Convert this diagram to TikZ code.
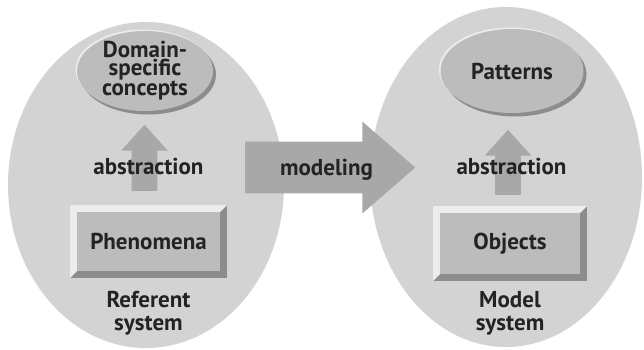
\documentclass[tikz,border=0pt]{standalone}
\usepackage{fontspec}
\setmainfont{PT Sans}
\usetikzlibrary{shapes, shapes.arrows, positioning, shadows}

\definecolor{sysgray}{RGB}{211,211,211}
\definecolor{facegray}{RGB}{188,188,188}
\definecolor{arrowgray}{RGB}{168,168,168}
\definecolor{litegray}{RGB}{236,236,236}
\definecolor{shadegray}{RGB}{140,140,140}
\definecolor{inkgray}{RGB}{35,35,35}

\tikzset{
	system/.style={ellipse, fill=sysgray, inner sep=0pt},
	concept/.style={ellipse, fill=facegray, inner sep=-12pt, align=center,
		font=\bfseries\fontsize{23}{18}\selectfont,
		general shadow={shadow xshift=3pt, shadow yshift=-3.5pt, fill=shadegray},
		general shadow={shadow xshift=-1.5pt, shadow yshift=1.5pt, fill=litegray}},
	bevelbox/.style={rectangle, fill=shadegray, inner sep=0pt,
		path picture={
			\fill[litegray] (path picture bounding box.south west)
				-- (path picture bounding box.north west)
				-- (path picture bounding box.north east)
				-- ([shift={(-7pt,-7pt)}]path picture bounding box.north east)
				-- ([shift={(7pt,7pt)}]path picture bounding box.south west) -- cycle;
			\fill[facegray] ([shift={(7pt,-7pt)}]path picture bounding box.north west)
				rectangle ([shift={(-7pt,7pt)}]path picture bounding box.south east);
		}},
	uparrow/.style={single arrow, fill=arrowgray, inner xsep=0pt, inner ysep=12.75pt, rotate=90,
		minimum height=66pt, minimum width=46pt, single arrow head extend=10.25pt,
		single arrow tip angle=84, anchor=tail},
	fatarrow/.style={single arrow, fill=arrowgray, inner xsep=0pt, inner ysep=25.75pt,
		minimum height=170pt, minimum width=91.5pt, single arrow head extend=20pt,
		single arrow tip angle=82, anchor=tail},
	caption/.style={align=center, inner sep=0pt},
	syslabel/.style={caption, font=\bfseries\fontsize{23}{23}\selectfont}
}

\begin{document}
\begin{tikzpicture}[x=1pt, y=-1pt, font=\bfseries\fontsize{23}{20}\selectfont, text=inkgray]
	\useasboundingbox (0,0) rectangle (644,350);

	% the two systems
	\node[system, minimum width=276pt, minimum height=326pt] (refsys) at (146,185) {};
	\node[system, minimum width=272pt, minimum height=340pt] (modsys) at (506,177) {};

	% modeling
	\node[fatarrow] (modeling) at (245,167.5) {};
	\node[caption, anchor=base] (modelinglabel) at (326.5,175) {modeling};

	% referent side
	\node[concept, minimum width=136pt, minimum height=80pt] (domconcepts) at (145,71)
		{Domain-\\specific\\concepts};
	\node[bevelbox, minimum width=157pt, minimum height=73pt] (phenomena) at (148.5,241.5) {Phenomena};
	\node[uparrow] (refabs) at (144.5,191) {};
	\node[caption, anchor=base] (refabslabel) at (148.5,174) {abstraction};
	\node[syslabel, below=13pt of phenomena] (reflabel) {Referent\\system};

	% model side
	\node[concept, minimum width=143pt, minimum height=84pt] (patterns) at (512,71) {Patterns};
	\node[bevelbox, minimum width=154pt, minimum height=75pt] (objects) at (510,243.5) {Objects};
	\node[uparrow, minimum height=65pt] (modabs) at (508,195) {};
	\node[caption, anchor=base] (modabslabel) at (511.5,174) {abstraction};
	\node[syslabel, below=10pt of objects] (modlabel) {Model\\system};
\end{tikzpicture}
\end{document}
